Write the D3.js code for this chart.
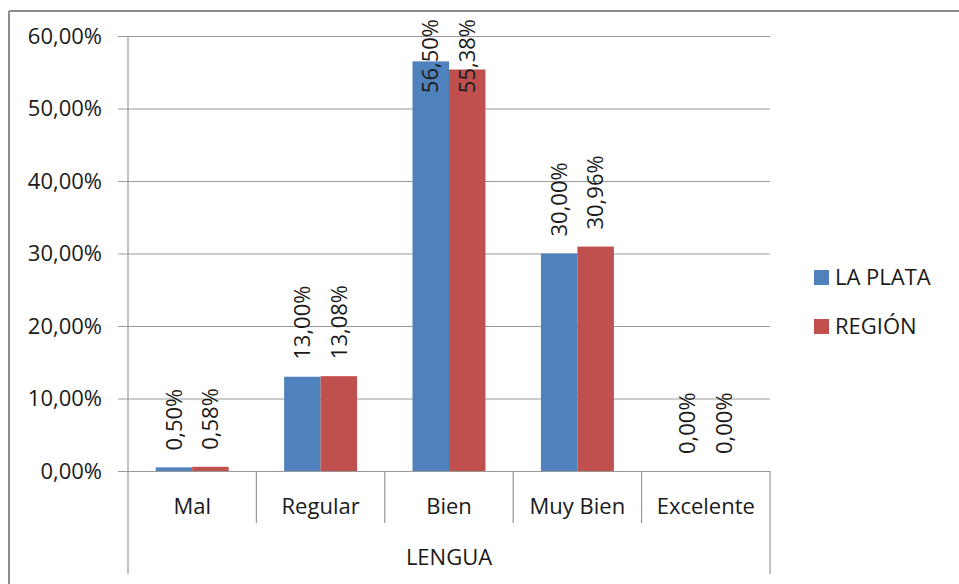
<!DOCTYPE html>
<html><head><meta charset="utf-8">
<script src="https://cdn.jsdelivr.net/npm/d3@7"></script>
<style>body{margin:0;background:#fff}svg{display:block}text{font-family:"Open Sans",Lato,sans-serif;fill:#1a1a1a}</style>
</head><body>
<svg id="c" width="959" height="584"></svg>
<script>
const categories = ["Mal","Regular","Bien","Muy Bien","Excelente"];
const series = ["LA PLATA","REGIÓN"];
const laPlata = [0.50, 13.00, 56.50, 30.00, 0.00];
const region = [0.58, 13.08, 55.38, 30.96, 0.00];
const yTicks = [0,10,20,30,40,50,60];
const groupLabel = "LENGUA";
const colors = ["#4F81BD","#C0504D"];

(function(){
const svg = d3.select("#c");
const pL = 128, pR = 770, pT = 36, pB = 471;
const FS = 22;
const x = d3.scaleBand().domain(categories).range([pL,pR]).paddingInner(0).paddingOuter(0);
const x1 = d3.scaleBand().domain(series).range([0,x.bandwidth()]).paddingInner(0).paddingOuter(0.76);
const y = d3.scaleLinear().domain([0,60]).range([pB,pT]);
const fmt = v => d3.format(".2f")(v).replace(".",",") + "%";

// outer border (top & left visible)
svg.append("line").attr("x1",9).attr("x2",959).attr("y1",11).attr("y2",11).attr("stroke","#8c8c8c").attr("stroke-width",2);
svg.append("line").attr("x1",9).attr("x2",9).attr("y1",11).attr("y2",584).attr("stroke","#8c8c8c").attr("stroke-width",2);

// gridlines + ticks
const yAxis = d3.axisLeft(y).tickValues(yTicks).tickSize(-(pR-pL)).tickPadding(16).tickFormat(fmt);
const ga = svg.append("g").attr("transform",`translate(${pL},0)`).call(yAxis);
ga.select(".domain").remove();
ga.selectAll(".tick line").attr("stroke","#999").attr("x1",-10).attr("stroke-width",1.2);
ga.selectAll(".tick text").attr("font-size",FS).attr("fill","#1a1a1a").attr("x",-26);

// axis vertical line
svg.append("line").attr("x1",pL).attr("x2",pL).attr("y1",pT).attr("y2",574).attr("stroke","#999").attr("stroke-width",1.2);

// category separators
const seps = categories.map(c=>x(c)+x.bandwidth());
seps.forEach((sx,i)=>{
  const last = i===categories.length-1;
  svg.append("line").attr("x1",sx).attr("x2",sx).attr("y1",pB).attr("y2",last?574:523).attr("stroke","#999").attr("stroke-width",1.2);
});

// bars
const data = [laPlata, region];
series.forEach((s,si)=>{
  svg.append("g").selectAll("rect").data(categories).join("rect")
    .attr("x",c=>x(c)+x1(s)).attr("width",x1.bandwidth())
    .attr("y",(c,i)=>y(data[si][i])).attr("height",(c,i)=>pB-y(data[si][i]))
    .attr("fill",colors[si]);
});

// data labels
series.forEach((s,si)=>{
  svg.append("g").selectAll("text").data(categories).join("text")
    .attr("font-size",FS)
    .text((c,i)=>fmt(data[si][i]))
    .each(function(c,i){
      const el = d3.select(this);
      const len = this.getComputedTextLength();
      let start = y(data[si][i]) - 17;
      if (start - len < 19) start = 19 + len;
      const cx = x(c)+x1(s)+x1.bandwidth()/2;
      el.attr("transform",`translate(${cx},${start}) rotate(-90)`).attr("dy","0.35em").attr("text-anchor","start");
    });
});

// category labels
svg.append("g").selectAll("text").data(categories).join("text")
  .attr("x",c=>x(c)+x.bandwidth()/2).attr("y",506).attr("dy","0.35em")
  .attr("text-anchor","middle").attr("font-size",FS).text(c=>c);
svg.append("text").attr("x",(pL+pR)/2).attr("y",557).attr("dy","0.35em")
  .attr("text-anchor","middle").attr("font-size",FS).text(groupLabel);

// legend
const lg = svg.append("g");
series.forEach((s,i)=>{
  const ly = 277 + i*49;
  lg.append("rect").attr("x",814).attr("y",ly-7).attr("width",15).attr("height",15).attr("fill",colors[i]);
  lg.append("text").attr("x",835).attr("y",ly).attr("dy","0.35em").attr("font-size",FS).text(s);
});
})();
</script>
</body></html>
